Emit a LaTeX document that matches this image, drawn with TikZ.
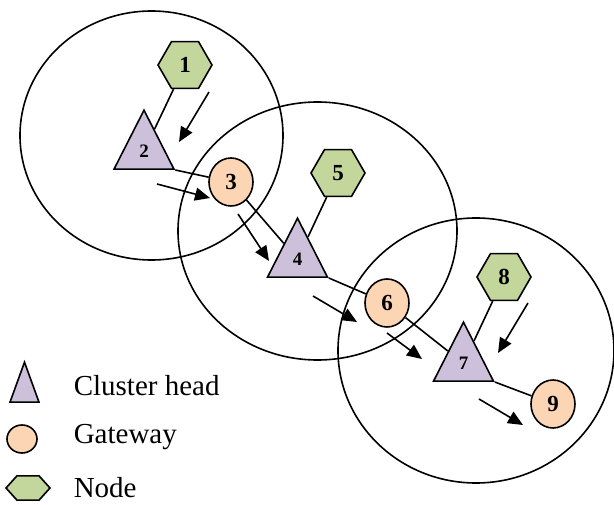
\documentclass[tikz,border=0pt]{standalone}
\usepackage{fontspec}
\setmainfont{Liberation Serif}
\usetikzlibrary{shapes.geometric,arrows.meta}
\definecolor{hexg}{RGB}{195,214,155}
\definecolor{trip}{RGB}{204,192,218}
\definecolor{gwo}{RGB}{252,213,181}
\begin{document}
\begin{tikzpicture}[x=1pt,y=-1pt,line width=1.6pt,
  hexn/.style={regular polygon, regular polygon sides=6, draw, fill=hexg, minimum size=54pt, inner sep=0pt, font=\fontsize{23}{23}\selectfont\bfseries},
  gwn/.style={ellipse, draw, fill=gwo, minimum width=44pt, minimum height=48pt, inner sep=0pt, font=\fontsize{23}{23}\selectfont\bfseries},
  chn/.style={isosceles triangle, isosceles triangle stretches, shape border rotate=90, draw, fill=trip, minimum width=60pt, minimum height=59pt, inner sep=0pt, anchor=lower side, font=\fontsize{19}{19}\selectfont\bfseries},
  link/.style={line width=1.6pt},
  flow/.style={line width=1.6pt, -{Triangle[length=15pt,width=13pt]}},
  rangering/.style={line width=1.6pt},
  legtext/.style={anchor=base west, inner sep=0pt, font=\fontsize{29}{29}\selectfont}
]
\useasboundingbox (0,0) rectangle (614,505);
% range circles
\draw[rangering] (151.5,135.5) ellipse [x radius=131.5pt, y radius=124.5pt];
\draw[rangering] (317.5,231) ellipse [x radius=139.5pt, y radius=129pt];
\draw[rangering] (476,350.5) ellipse [x radius=138pt, y radius=132.5pt];
% nodes
\node[hexn] (n1) at (185,65) {1};
\node[chn]  (n2) at (144,170) {2};
\node[gwn]  (n3) at (231,182) {3};
\node[chn]  (n4) at (297.5,278) {4};
\node[hexn] (n5) at (338,173) {5};
\node[gwn]  (n6) at (387,303) {6};
\node[chn]  (n7) at (463.5,382) {7};
\node[hexn] (n8) at (504,277) {8};
\node[gwn]  (n9) at (553,404) {9};
% links
\draw[link] (n1) -- (n2);
\draw[link] (n2.right corner) -- (n3);
\draw[link] (n3) -- (n4);
\draw[link] (n5) -- (n4);
\draw[link] (n4.right corner) -- (n6);
\draw[link] (n6) -- (n7);
\draw[link] (n8) -- (n7);
\draw[link] (n7.right corner) -- (n9);
% flow arrows
\coordinate (a1s) at (209,92);  \coordinate (a1e) at (179,142);
\coordinate (a2s) at (157,184); \coordinate (a2e) at (210,198);
\coordinate (a3s) at (238,214); \coordinate (a3e) at (269,261);
\coordinate (a4s) at (313,296); \coordinate (a4e) at (357,322);
\coordinate (a5s) at (387,333); \coordinate (a5e) at (422,359);
\coordinate (a6s) at (528,303); \coordinate (a6e) at (498,353);
\coordinate (a7s) at (479,399); \coordinate (a7e) at (523,425);
\draw[flow] (a1s) -- (a1e);
\draw[flow] (a2s) -- (a2e);
\draw[flow] (a3s) -- (a3e);
\draw[flow] (a4s) -- (a4e);
\draw[flow] (a5s) -- (a5e);
\draw[flow] (a6s) -- (a6e);
\draw[flow] (a7s) -- (a7e);
% legend
\node[chn, minimum width=29pt, minimum height=40pt] (lch) at (24.5,403) {};
\node[ellipse, draw, fill=gwo, minimum width=30pt, minimum height=28pt, inner sep=0pt] (lgw) at (22,439) {};
\node[regular polygon, regular polygon sides=6, draw, fill=hexg, minimum size=44pt, inner sep=0pt, yscale=0.64] (lnd) at (28,488) {};
\node[legtext] (t1) at (73,396) {Cluster head};
\node[legtext] (t2) at (73,444) {Gateway};
\node[legtext] (t3) at (73,497) {Node};
\end{tikzpicture}
\end{document}
